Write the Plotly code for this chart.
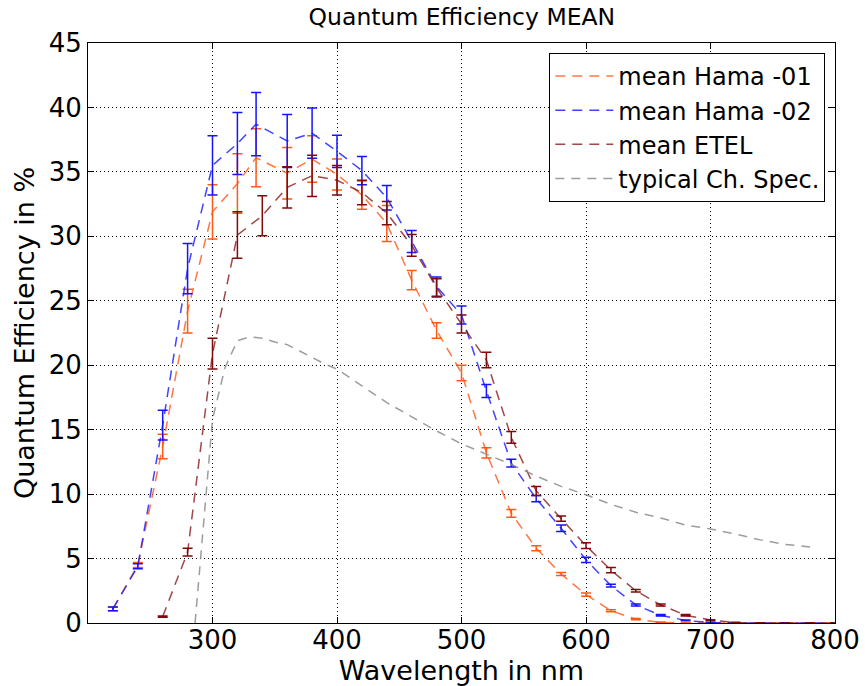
import plotly.graph_objects as go

# ---- data ----
wl_hama = [220, 240, 260, 280, 300, 320, 335, 360, 380, 400, 420, 440, 460, 480, 500,
           520, 540, 560, 580, 600, 620, 640, 660, 680, 700, 720, 740, 760, 780, 800]
hama01_mean = [1.1, 4.5, 13.7, 24.2, 31.9, 34.1, 36.1, 34.9, 36.0, 34.8, 33.2, 31.0, 26.6, 22.7, 19.4,
               13.2, 8.5, 5.8, 3.8, 2.2, 0.95, 0.3, 0.05, 0.0, 0.0, 0.0, 0.0, 0.0, 0.0, 0.0]
hama01_err = [0.15, 0.2, 0.95, 1.7, 2.1, 2.3, 2.25, 2.0, 1.8, 1.2, 1.1, 1.4, 0.75, 0.6, 0.6,
              0.4, 0.3, 0.2, 0.12, 0.12, 0.08, 0.05, 0.02, 0.0, 0.0, 0.0, 0.0, 0.0, 0.0, 0.0]
hama02_mean = [1.1, 4.4, 15.35, 27.5, 35.5, 37.2, 38.7, 37.4, 38.0, 36.6, 35.1, 33.0, 29.6, 26.1, 23.9,
               18.0, 12.4, 9.65, 7.35, 4.9, 2.9, 1.4, 0.6, 0.2, 0.03, 0.0, 0.0, 0.0, 0.0, 0.0]
hama02_err = [0.15, 0.2, 1.15, 1.95, 2.3, 2.4, 2.45, 2.05, 1.95, 1.25, 1.1, 0.95, 0.85, 0.75, 0.7,
              0.5, 0.3, 0.25, 0.25, 0.2, 0.1, 0.08, 0.05, 0.03, 0.02, 0.0, 0.0, 0.0, 0.0, 0.0]

wl_etel = [260, 280, 300, 320, 340, 360, 380, 400, 420, 440, 460, 480, 500, 520,
           540, 560, 580, 600, 620, 640, 660, 680, 700, 720, 740, 760, 780, 800]
etel_mean = [0.5, 5.5, 20.9, 30.1, 31.6, 33.8, 34.7, 34.35, 33.4, 31.8, 29.3, 26.0, 23.2, 20.4,
             14.4, 10.25, 8.1, 6.0, 4.1, 2.5, 1.4, 0.6, 0.23, 0.03, 0.0, 0.0, 0.0, 0.0]
etel_err = [0.05, 0.3, 1.2, 1.8, 1.55, 1.6, 1.6, 1.15, 0.95, 0.9, 0.85, 0.7, 0.7, 0.6,
            0.45, 0.35, 0.2, 0.22, 0.2, 0.1, 0.08, 0.05, 0.03, 0.02, 0.0, 0.0, 0.0, 0.0]

wl_spec = [286, 300, 310, 320, 330, 340, 350, 360, 370, 380, 390, 400, 420, 440, 460, 480,
           500, 520, 540, 560, 580, 600, 620, 640, 660, 680, 700, 720, 740, 760, 780]
spec_qe = [0.0, 15.8, 19.8, 21.9, 22.2, 22.1, 21.8, 21.6, 21.1, 20.6, 20.1, 19.7, 18.4, 17.1, 16.0, 14.9,
           13.9, 13.1, 12.3, 11.4, 10.6, 9.95, 9.2, 8.6, 8.15, 7.6, 7.3, 6.9, 6.45, 6.1, 5.9]

x_ticks = [300, 400, 500, 600, 700, 800]
y_ticks = [0, 5, 10, 15, 20, 25, 30, 35, 40, 45]

FONT = "DejaVu Sans"

fig = go.Figure()

def add_series(x, y, err, name, line_rgba, bar_color):
    fig.add_trace(go.Scatter(
        x=x, y=y, name=name, mode="lines",
        line=dict(color=line_rgba, width=1.5, dash="10px,7px"),
        error_y=dict(type="data", array=err, visible=True, color=bar_color,
                     thickness=1.5, width=5),
    ))

add_series(wl_hama, hama01_mean, hama01_err, "mean Hama -01", "rgba(255,85,20,0.8)", "#ff5a14")
add_series(wl_hama, hama02_mean, hama02_err, "mean Hama -02", "rgba(20,20,255,0.8)", "#1414ff")
add_series(wl_etel, etel_mean, etel_err, "mean ETEL", "rgba(128,10,10,0.75)", "#800a0a")
fig.add_trace(go.Scatter(
    x=wl_spec, y=spec_qe, name="typical Ch. Spec.", mode="lines",
    line=dict(color="rgba(140,140,140,0.85)", width=1.5, dash="9px,7px"),
))

axis_common = dict(
    showline=True, linecolor="black", linewidth=1, mirror="ticks",
    ticks="inside", ticklen=6, tickcolor="black", tickwidth=1,
    showgrid=True, gridcolor="black", gridwidth=1, griddash="1px,3px",
    zeroline=False, tickfont=dict(family=FONT, size=26, color="black"),
    automargin=False,
)

fig.update_xaxes(range=[200, 800], tickvals=x_ticks, ticktext=[str(v) for v in x_ticks],
                 ticklabelstandoff=-6,
                 title=dict(text="Wavelength in nm", font=dict(family=FONT, size=27, color="black"), standoff=0),
                 **axis_common)
fig.update_yaxes(range=[0, 45], tickvals=y_ticks, ticktext=[str(v) for v in y_ticks],
                 title=dict(text="Quantum Efficiency in %", font=dict(family=FONT, size=27, color="black"), standoff=6),
                 **axis_common)

fig.update_layout(
    width=865, height=686,
    margin=dict(l=88, r=30, t=43, b=63, autoexpand=False),
    paper_bgcolor="white", plot_bgcolor="white",
    font=dict(family=FONT, color="black"),
    title=dict(text="Quantum Efficiency MEAN", x=0.534, xanchor="center", y=0.975, yanchor="middle",
               font=dict(family=FONT, size=23.5, color="black")),
    legend=dict(x=0.987, y=0.983, xanchor="right", yanchor="top",
                bgcolor="white", bordercolor="black", borderwidth=1,
                font=dict(family=FONT, size=24, color="black"),
                itemwidth=58, tracegroupgap=0),
    showlegend=True,
)

fig.write_html("out.html")
